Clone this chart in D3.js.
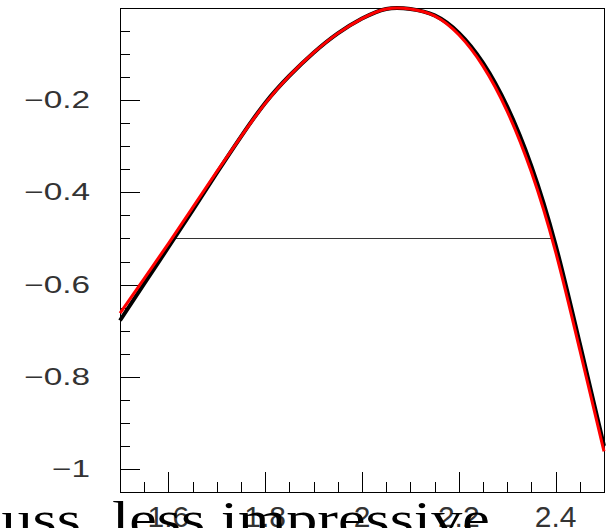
<!DOCTYPE html>
<html>
<head>
<meta charset="utf-8">
<script src="https://cdn.jsdelivr.net/npm/d3@7"></script>
<style>
  body { margin: 0; background: #fff; overflow: hidden; }
</style>
</head>
<body>
<script>
// likelihood scan (black) and fitted curve (red)
var xs =       [1.50, 1.55, 1.60, 1.65, 1.70, 1.75, 1.80, 1.85, 1.90, 1.95, 2.00, 2.05, 2.10, 2.15, 2.20, 2.25, 2.30, 2.35, 2.40, 2.45, 2.50];
var scanVals = [-0.678, -0.598, -0.519, -0.439, -0.358, -0.279, -0.206, -0.147, -0.097, -0.055, -0.023, -0.002, -0.002, -0.016, -0.054, -0.119, -0.214, -0.343, -0.514, -0.728, -0.950];
var fitVals =  [-0.662, -0.587, -0.511, -0.433, -0.355, -0.279, -0.207, -0.147, -0.097, -0.055, -0.023, -0.002, -0.002, -0.017, -0.058, -0.126, -0.224, -0.356, -0.529, -0.742, -0.962];
var levelY = -0.5;
var levelX = [1.609, 2.392];
var xTicks = [1.6, 1.8, 2.0, 2.2, 2.4];
var yTicks = [-1, -0.8, -0.6, -0.4, -0.2];
var title = "Gauss, less impressive";

var w = 615;
var h = 528;
// frame edges (not "top": that name is taken by window.top)
var fL = 120, fR = 604, fT = 8, fB = 492;

var svg = d3.select("body").append("svg")
            .attr("width", w)
            .attr("height", h);

var x = d3.scaleLinear().domain([1.5, 2.5]).range([fL, fR]);
var y = d3.scaleLinear().domain([-1.05, 0]).range([fB, fT]);

// frame
svg.append("rect")
  .attr("x", fL + 0.5)
  .attr("y", fT + 0.5)
  .attr("width", fR - fL)
  .attr("height", fB - fT)
  .attr("fill", "none")
  .attr("stroke", "#000")
  .attr("stroke-width", 1);

function isMajor(d) { return Math.abs(d * 5 - Math.round(d * 5)) < 1e-6; }

// minor + major ticks (inside the frame)
var yMinor = d3.range(-1.0, 0.0001, 0.05);
svg.selectAll(".ytick")
  .data(yMinor)
  .enter()
  .append("line")
  .attr("x1", fL)
  .attr("x2", function(d) { return isMajor(d) ? fL + 20 : fL + 10; })
  .attr("y1", function(d) { return Math.round(y(d)) + 0.5; })
  .attr("y2", function(d) { return Math.round(y(d)) + 0.5; })
  .attr("stroke", "#000");

var xMinor = d3.range(1.55, 2.5, 0.05);
svg.selectAll(".xtick")
  .data(xMinor)
  .enter()
  .append("line")
  .attr("x1", function(d) { return Math.round(x(d)) + 0.5; })
  .attr("x2", function(d) { return Math.round(x(d)) + 0.5; })
  .attr("y1", fB)
  .attr("y2", function(d) { return isMajor(d) ? fB - 20 : fB - 10; })
  .attr("stroke", "#000");

// tick labels
function fmt(v) {
  var s = d3.format("")(+v.toFixed(2));
  return s.replace("-", "\u2212");
}

svg.selectAll(".ylab")
  .data(yTicks)
  .enter()
  .append("text")
  .attr("transform", function(d) { return "translate(90," + (y(d) + 8) + ") scale(1.45,1)"; })
  .attr("text-anchor", "end")
  .attr("font-family", "Liberation Sans, sans-serif")
  .attr("font-size", 23)
  .attr("fill", "#333")
  .text(function(d) { return fmt(d); });

svg.selectAll(".xlab")
  .data(xTicks)
  .enter()
  .append("text")
  .attr("x", function(d) { return x(d); })
  .attr("y", 527)
  .attr("text-anchor", "middle")
  .attr("font-family", "Liberation Sans, sans-serif")
  .attr("font-size", 30)
  .attr("fill", "#333")
  .text(function(d) { return fmt(d); });

// -0.5 level line
svg.append("line")
  .attr("x1", x(levelX[0]))
  .attr("x2", x(levelX[1]))
  .attr("y1", Math.round(y(levelY)) + 0.5)
  .attr("y2", Math.round(y(levelY)) + 0.5)
  .attr("stroke", "#333")
  .attr("stroke-width", 1);

// curves
var line = d3.line()
  .x(function(d) { return x(d[0]); })
  .y(function(d) { return y(d[1]); })
  .curve(d3.curveNatural);

svg.append("path")
  .datum(d3.zip(xs, scanVals))
  .attr("d", line)
  .attr("fill", "none")
  .attr("stroke", "#000")
  .attr("stroke-width", 4);

svg.append("path")
  .datum(d3.zip(xs, fitVals))
  .attr("d", line)
  .attr("fill", "none")
  .attr("stroke", "#ff0000")
  .attr("stroke-width", 3);

// title, sits below the plot and runs off the left edge (stretched like the rest of the ROOT text)
var t = svg.append("text")
  .attr("x", 0)
  .attr("y", 0)
  .attr("font-family", "Liberation Serif, serif")
  .attr("font-size", 49)
  .attr("fill", "#000")
  .text(title);
var pre = t.node().getSubStringLength(0, 7);
var rest = t.node().getSubStringLength(7, title.length - 7);
var sx = 378 / rest;
t.attr("transform", "translate(" + (112 - pre * sx) + ",535) scale(" + sx + ",1)");
</script>
</body>
</html>
